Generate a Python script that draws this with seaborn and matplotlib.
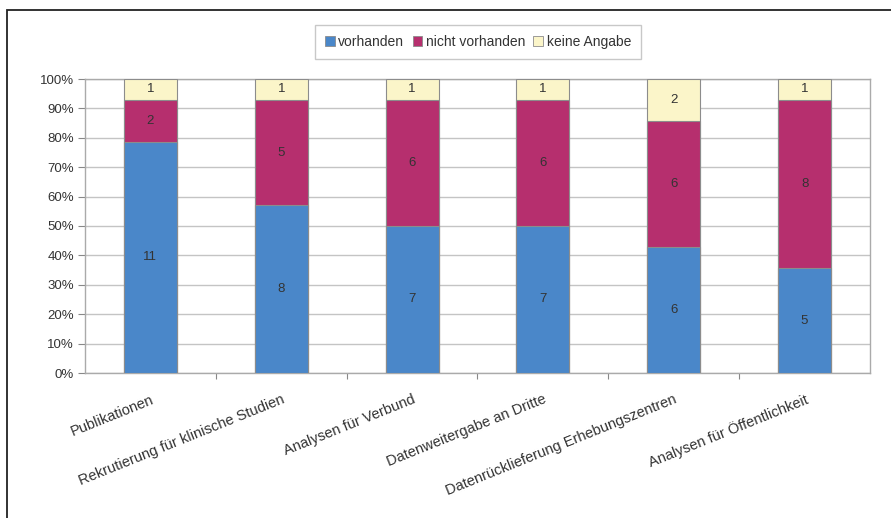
import matplotlib
matplotlib.use("Agg")
import matplotlib.pyplot as plt
from matplotlib.patches import Rectangle, Patch
from matplotlib.ticker import FixedLocator, PercentFormatter
import numpy as np
import pandas as pd
import seaborn as sns

sns.set_theme(style="white")
plt.rcParams["font.family"] = ["Liberation Sans", "DejaVu Sans"]

# Survey counts per use case
categories = [
    "Publikationen",
    "Rekrutierung für klinische Studien",
    "Analysen für Verbund",
    "Datenweitergabe an Dritte",
    "Datenrücklieferung Erhebungszentren",
    "Analysen für Öffentlichkeit",
]
vorhanden = [11, 8, 7, 7, 6, 5]
nicht_vorhanden = [2, 5, 6, 6, 6, 8]
keine_angabe = [1, 1, 1, 1, 2, 1]
series_names = ["vorhanden", "nicht vorhanden", "keine Angabe"]
colors = ["#4A87C9", "#B62F6E", "#FBF5C9"]

counts = np.array([vorhanden, nicht_vorhanden, keine_angabe], dtype=float)
totals = counts.sum(axis=0)
shares = counts / totals * 100
cum = np.cumsum(shares, axis=0)

df = pd.DataFrame({"Kategorie": categories})
for i, name in enumerate(series_names):
    df[name + "_cum"] = cum[i]

fig = plt.figure(figsize=(8.91, 5.18), dpi=100)
ax = fig.add_axes([85 / 891, 1 - 373 / 518, 785 / 891, 294 / 518])
ax.set_facecolor("white")

# Stacked bars: draw cumulative layers from top to bottom
for i in reversed(range(len(series_names))):
    sns.barplot(
        data=df, x="Kategorie", y=series_names[i] + "_cum", ax=ax,
        color=colors[i], width=0.405, edgecolor="#8C8C8C", linewidth=0.8,
        saturation=1, zorder=3,
    )

# Segment value labels
for j in range(len(categories)):
    bottom = 0.0
    for i in range(len(series_names)):
        mid = bottom + shares[i, j] / 2
        ax.text(j, mid, f"{int(counts[i, j])}", ha="center", va="center",
                fontsize=9.5, color="#333333", zorder=5)
        bottom += shares[i, j]

ax.set_xlim(-0.5, len(categories) - 0.5)
ax.set_ylim(0, 100)
ax.set_yticks(np.arange(0, 101, 10))
ax.yaxis.set_major_formatter(PercentFormatter(decimals=0))
ax.yaxis.grid(True, color="#C4C4C4", linewidth=1.0, zorder=0)
ax.set_axisbelow(True)
ax.set_xlabel("")
ax.set_ylabel("")

ax.tick_params(axis="y", which="major", direction="out", length=5, width=0.8,
               color="#888888", labelsize=9.5, labelcolor="#333333", pad=3,
               left=True)
ax.set_xticks(range(len(categories)))
ax.set_xticklabels(categories, rotation=22, ha="right",
                   rotation_mode="anchor", fontsize=10.5, color="#333333")
ax.tick_params(axis="x", which="major", length=0, pad=14)
ax.xaxis.set_minor_locator(FixedLocator(np.arange(0.5, len(categories) - 1, 1.0)))
ax.tick_params(axis="x", which="minor", direction="out", length=4, width=0.8,
               color="#888888", bottom=True)

for side in ["left", "right", "top", "bottom"]:
    ax.spines[side].set_visible(True)
    ax.spines[side].set_color("#AAAAAA")
    ax.spines[side].set_linewidth(1.0)

handles = [Patch(facecolor=c, edgecolor="#8C8C8C", linewidth=0.6) for c in colors]
fig.legend(handles, series_names, loc="center", ncol=3,
           bbox_to_anchor=(478 / 891, 1 - 42 / 518), fontsize=10,
           frameon=True, fancybox=False, edgecolor="#BBBBBB",
           handlelength=0.7, handleheight=0.7, handletextpad=0.25,
           columnspacing=0.6, borderpad=0.7, labelcolor="#333333")

# Outer chart frame
fig.add_artist(Rectangle((7 / 891, -0.2), 1.5, 1.2 - 10 / 518,
                         transform=fig.transFigure, fill=False,
                         edgecolor="#222222", linewidth=1.3))

fig.savefig("out.png", dpi=100, facecolor="white")
